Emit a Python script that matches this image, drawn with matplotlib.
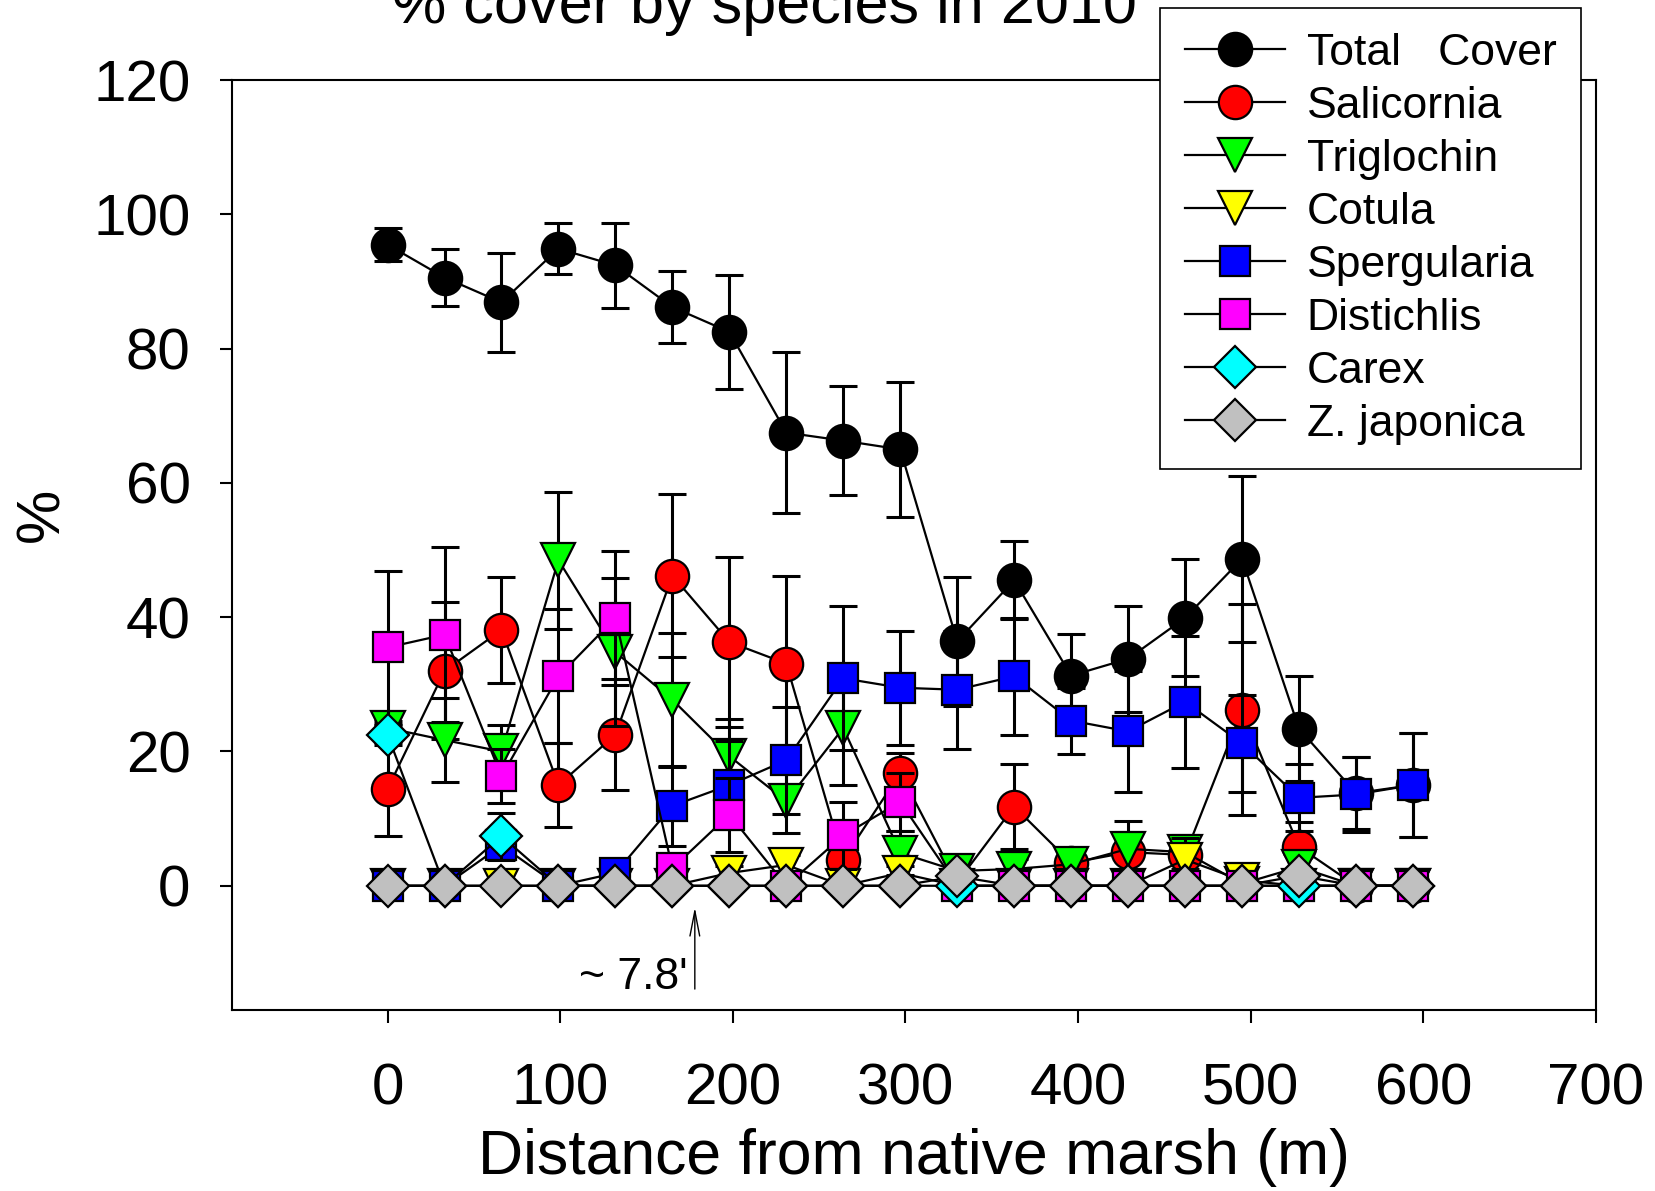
import matplotlib
matplotlib.use('Agg')
import matplotlib.pyplot as plt
import numpy as np

plt.rcParams['font.family'] = ['Liberation Sans', 'DejaVu Sans']

# distance from native marsh (m)
dist = [0, 33, 66, 99, 132, 165, 198, 231, 264, 297, 330, 363, 396, 429, 462, 495, 528, 561, 594]

total = [95.5, 90.6, 86.9, 94.9, 92.4, 86.2, 82.5, 67.5, 66.3, 65.0, 36.4, 45.5, 31.3, 33.8, 39.9, 48.7, 23.4, 13.8, 15.0]
total_err = [2.5, 4.3, 7.4, 3.8, 6.3, 5.3, 8.5, 12.0, 8.1, 10.0, 9.6, 5.8, 6.2, 7.9, 8.7, 12.4, 7.8, 5.4, 7.7]

salicornia = [14.4, 32.0, 38.1, 15.0, 22.5, 46.2, 36.3, 33.1, 3.9, 16.8, 0.5, 11.8, 3.4, 5.0, 4.6, 26.2, 5.8, 0, 0]
salicornia_err = [7.0, 10.2, 7.9, 6.3, 8.3, 12.1, 12.7, 13.1, 3.0, 3.0, 0.5, 6.3, 2.2, 3.0, 2.8, 15.7, 3.7, 0, 0]

triglochin = [23.5, 21.7, 20.0, 48.5, 34.8, 27.7, 19.3, 12.6, 23.5, 4.9, 2.2, 2.5, 3.2, 5.5, 5.0, 0.3, 2.8, 0, 0]
triglochin_err = [1.0, 6.2, 4.0, 10.2, 11.0, 10.0, 5.5, 4.7, 8.5, 3.3, 1.5, 1.5, 1.8, 4.2, 2.5, 0.3, 2.0, 0, 0]

cotula = [0, 0, 0, 0, 0, 0, 1.9, 3.1, 0, 1.9, 0, 0, 0, 0, 3.9, 0.8, 0, 0, 0]
cotula_err = [0, 0, 0, 0, 0, 0, 1.0, 1.5, 0, 1.0, 0, 0, 0, 0, 3.2, 0.8, 0, 0, 0]

spergularia = [0, 0, 6.0, 0, 1.9, 11.9, 15.0, 18.7, 30.9, 29.5, 29.2, 31.2, 24.6, 23.0, 27.4, 21.2, 13.1, 13.6, 15.0]
spergularia_err = [0, 0, 2.0, 0, 1.0, 6.0, 6.5, 8.0, 10.7, 8.5, 8.8, 8.7, 4.9, 9.0, 9.8, 7.2, 5.0, 5.6, 7.8]

distichlis = [35.5, 37.4, 16.3, 31.2, 39.9, 2.6, 10.6, 0, 7.5, 12.5, 0, 0, 0, 0, 0, 0, 0, 0, 0]
distichlis_err = [11.4, 13.0, 4.0, 10.0, 10.0, 2.0, 5.5, 0, 5.0, 4.3, 0, 0, 0, 0, 0, 0, 0, 0, 0]

carex = [22.5, 0, 7.4, 0, 0, 0, 0, 0, 0, 0, 0, 0, 0, 0, 0, 0, 0, 0, 0]
carex_err = [1.5, 0, 3.5, 0, 0, 0, 0, 0, 0, 0, 0, 0, 0, 0, 0, 0, 0, 0, 0]

zjaponica = [0, 0, 0, 0, 0, 0, 0, 0, 0, 0, 1.4, 0, 0, 0, 0, 0, 1.5, 0, 0]
zjaponica_err = [0, 0, 0, 0, 0, 0, 0, 0, 0, 0, 1.0, 0, 0, 0, 0, 0, 1.0, 0, 0]

labels = ['Total   Cover', 'Salicornia', 'Triglochin', 'Cotula', 'Spergularia',
          'Distichlis', 'Carex', 'Z. japonica']
series = [(total, total_err), (salicornia, salicornia_err), (triglochin, triglochin_err),
          (cotula, cotula_err), (spergularia, spergularia_err), (distichlis, distichlis_err),
          (carex, carex_err), (zjaponica, zjaponica_err)]
colors = ['black', 'red', '#00ff00', 'yellow', 'blue', 'magenta', 'cyan', '#c0c0c0']
markers = ['o', 'o', 'v', 'v', 's', 's', 'D', 'D']
msizes = [24, 24, 24, 24, 21, 21, 21, 21]

fig = plt.figure(figsize=(16.55, 11.91), dpi=100)
ax = fig.add_axes([0.1403, 0.152, 0.824, 0.7807])

handles = []
for i, ((y, e), lab) in enumerate(zip(series, labels)):
    z = 3 + i * 2
    ax.errorbar(dist, y, yerr=e, fmt='none', ecolor='black', elinewidth=2.2,
                capsize=10, capthick=2.2, zorder=z)
    ln, = ax.plot(dist, y, '-', color='black', lw=1.6, marker=markers[i],
                  markersize=msizes[i], markerfacecolor=colors[i],
                  markeredgecolor='black', markeredgewidth=1.6, zorder=z + 1,
                  clip_on=False)
    handles.append(ln)

ax.set_xlim(-90, 700)
ax.set_ylim(-18.5, 120)
ax.set_xticks(np.arange(0, 701, 100))
ax.set_yticks(np.arange(0, 121, 20))
ax.tick_params(axis='x', direction='out', length=9, width=1.5, pad=29, labelsize=42)
ax.tick_params(axis='y', direction='out', length=9, width=1.5, pad=21, labelsize=42)
for s in ax.spines.values():
    s.set_linewidth(1.5)

ax.set_xlabel('Distance from native marsh (m)', fontsize=45, va='center')
ax.xaxis.set_label_coords(0.5, -0.159)
ax.set_ylabel('%', fontsize=44, va='center')
ax.yaxis.set_label_coords(-0.139, 0.533)

ax.annotate('', xy=(178, -2.8), xytext=(178, -15.8),
            arrowprops=dict(arrowstyle='->,head_length=1.8,head_width=0.35',
                            lw=1, color='black'))
ax.text(174, -13.7, "~ 7.8'", ha='right', va='center', fontsize=32)

fig.text(0.4617, 0.981, '% cover by species in 2010', ha='center', va='baseline',
         fontsize=44)

leg = fig.legend(handles, labels, loc='upper left', bbox_to_anchor=(0.701, 0.993),
                 fontsize=32, frameon=True, fancybox=False, edgecolor='black',
                 framealpha=1, handlelength=2.25, handletextpad=0.5,
                 labelspacing=0.27, borderpad=0.55, borderaxespad=0)
leg.get_frame().set_linewidth(1.2)
leg.set_zorder(30)

fig.savefig('out.png', dpi=100)
